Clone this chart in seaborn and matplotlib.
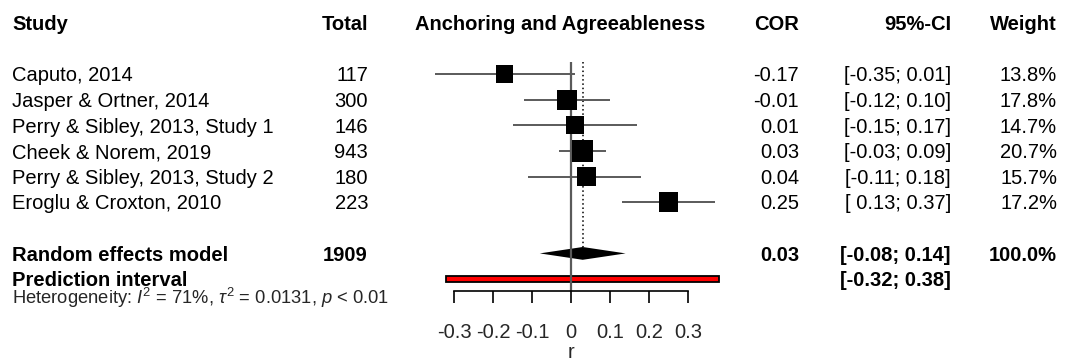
import numpy as np
import pandas as pd
import matplotlib
matplotlib.use('Agg')
import matplotlib.pyplot as plt
import seaborn as sns

# Data
studies = ['Caputo, 2014', 'Jasper & Ortner, 2014', 'Perry & Sibley, 2013, Study 1',
           'Cheek & Norem, 2019', 'Perry & Sibley, 2013, Study 2', 'Eroglu & Croxton, 2010']
totals = [117, 300, 146, 943, 180, 223]
cor = [-0.17, -0.01, 0.01, 0.03, 0.04, 0.25]
ci_lo = [-0.35, -0.12, -0.15, -0.03, -0.11, 0.13]
ci_hi = [0.01, 0.10, 0.17, 0.09, 0.18, 0.37]
weights = [13.8, 17.8, 14.7, 20.7, 15.7, 17.2]

re_total = 1909
re_est, re_lo, re_hi = 0.03, -0.08, 0.14
re_weight = 100.0
pi_lo, pi_hi = -0.32, 0.38
tick_vals = [-0.3, -0.2, -0.1, 0, 0.1, 0.2, 0.3]
tick_labels = ['-0.3', '-0.2', '-0.1', '0', '0.1', '0.2', '0.3']

df = pd.DataFrame({'study': studies, 'total': totals, 'cor': cor,
                   'lo': ci_lo, 'hi': ci_hi, 'weight': weights})
df['row'] = np.arange(len(df)) + 2
re_row = len(df) + 3
pi_row = re_row + 1

sns.set_style('white')
plt.rcParams['font.family'] = ['Liberation Sans', 'DejaVu Sans']
plt.rcParams['mathtext.fontset'] = 'custom'
plt.rcParams['mathtext.rm'] = 'Liberation Sans'
plt.rcParams['mathtext.it'] = 'Liberation Sans:italic'

W, H = 1082, 362
fig = plt.figure(figsize=(W / 100, H / 100), dpi=100)

# row 0 sits at 23 px from top, rows are 25.6 px apart
row_px, row0 = 25.6, 23
ylim = ((H - row0) / row_px, -row0 / row_px)

# forest panel: r = 0 at x=571 px, 0.1 = 39 px
ax_l, ax_r = 400, 740
px_per = 390
ax = fig.add_axes([ax_l / W, 0, (ax_r - ax_l) / W, 1])
ax.set_xlim((ax_l - 571) / px_per, (ax_r - 571) / px_per)
ax.set_ylim(*ylim)
ax.patch.set_alpha(0)

# table panel in pixel units
tab = fig.add_axes([0, 0, 1, 1], zorder=-1)
tab.set_xlim(0, W)
tab.set_ylim(*ylim)
tab.axis('off')

gray = '#5a5a5a'
axis_row = (291 - row0) / row_px
top_row = (62 - row0) / row_px
dia_h = 0.25

# reference lines
ax.vlines(0, top_row, axis_row, color=gray, lw=1.6)
ax.vlines(re_est, top_row, re_row - dia_h, color='black', lw=1.1, linestyles=(0, (1.0, 1.8)))

# study CIs and squares
ax.hlines(df['row'], df['lo'], df['hi'], color=gray, lw=1.4)
sns.scatterplot(data=df, x='cor', y='row', size='weight', size_norm=(0, 100),
                sizes=(0, 1145), marker='s', color='black', linewidth=0,
                legend=False, ax=ax, zorder=3)

# summary diamond
ax.fill([re_lo, re_est, re_hi, re_est], [re_row, re_row - dia_h, re_row, re_row + dia_h],
        color='black', lw=0)

# prediction interval
ax.barh(pi_row, pi_hi - pi_lo, left=pi_lo, height=0.22, color='#ff0000',
        edgecolor='black', linewidth=1.3)

fs = 14.5

# x axis
for s in ['top', 'left', 'right']:
    ax.spines[s].set_visible(False)
ax.spines['bottom'].set_position(('data', axis_row))
ax.spines['bottom'].set_bounds(tick_vals[0], tick_vals[-1])
ax.spines['bottom'].set_color('black')
ax.spines['bottom'].set_linewidth(1.2)
ax.set_xticks(tick_vals)
ax.set_xticklabels(tick_labels)
ax.tick_params(axis='x', direction='out', length=8.5, width=1.2, color='black',
               pad=14.5, labelsize=fs, bottom=True)
ax.set_yticks([])
ax.set_xlabel('')
ax.set_ylabel('')

off = 0.28  # baseline below row centre


def put(x, row, s, ha='left', bold=False, size=fs):
    tab.text(x, row + off, s, ha=ha, va='baseline', fontsize=size,
             fontweight='bold' if bold else 'normal', color='black')


# header
put(12, 0, 'Study', bold=True)
put(368, 0, 'Total', ha='right', bold=True)
put(560, 0, 'Anchoring and Agreeableness', ha='center', bold=True)
put(799, 0, 'COR', ha='right', bold=True)
put(951, 0, '95%-CI', ha='right', bold=True)
put(1057, 0, 'Weight', ha='right', bold=True)


def fmt(v):
    return f'{v:.2f}' if v < 0 else f' {v:.2f}'


for _, r in df.iterrows():
    put(12, r['row'], r['study'])
    put(368, r['row'], str(r['total']), ha='right')
    put(799, r['row'], f"{r['cor']:.2f}", ha='right')
    put(951, r['row'], f"[{fmt(r['lo'])};{fmt(r['hi'])}]", ha='right')
    put(1057, r['row'], f"{r['weight']:.1f}%", ha='right')

put(12, re_row, 'Random effects model', bold=True)
put(368, re_row, str(re_total), ha='right', bold=True)
put(799, re_row, f'{re_est:.2f}', ha='right', bold=True)
put(951, re_row, f'[{fmt(re_lo)};{fmt(re_hi)}]', ha='right', bold=True)
put(1057, re_row, f'{re_weight:.1f}%', ha='right', bold=True)

put(12, pi_row, 'Prediction interval', bold=True)
put(951, pi_row, f'[{fmt(pi_lo)};{fmt(pi_hi)}]', ha='right', bold=True)

tab.text(12, (304.5 - row0) / row_px,
         r'Heterogeneity: $I^2$ = 71%, $\tau^2$ = 0.0131, $p$ < 0.01',
         ha='left', va='baseline', fontsize=13.2)

tab.text(571, (358.5 - row0) / row_px, 'r', ha='center', va='baseline', fontsize=fs)

fig.savefig('out.png', dpi=100)
